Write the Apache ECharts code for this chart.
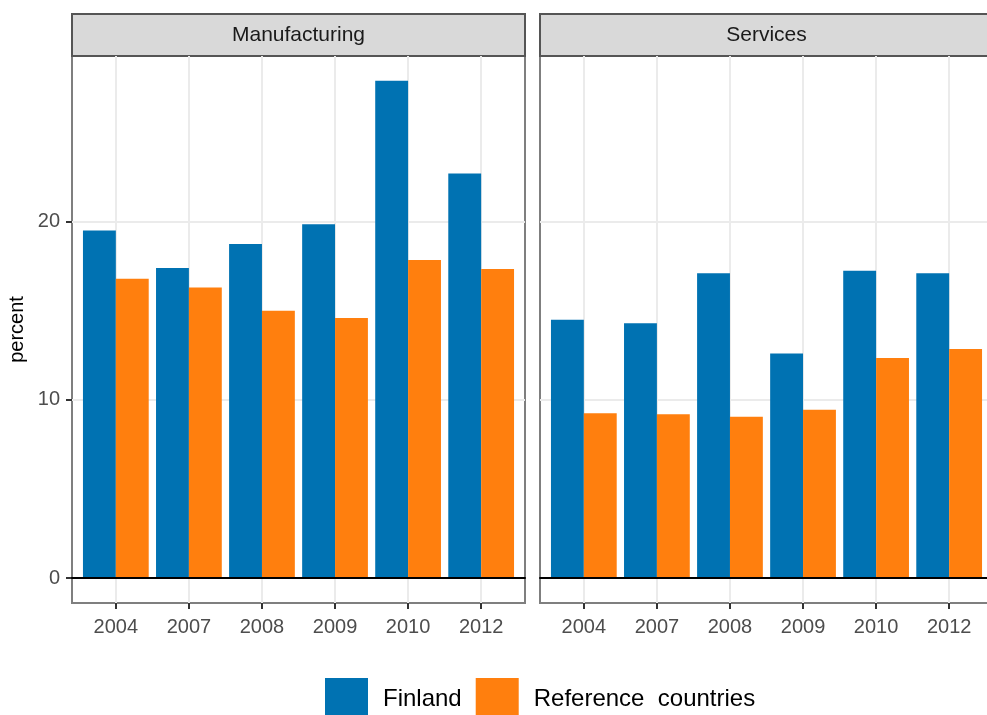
<!DOCTYPE html>
<html>
<head>
<meta charset="utf-8">
<script src="https://cdn.jsdelivr.net/npm/echarts@6/dist/echarts.min.js"></script>
<style>
  html, body { margin: 0; padding: 0; overflow: hidden; background: #ffffff; }
  #chart { width: 1000px; height: 715px; }
</style>
</head>
<body>
<div id="chart"></div>
<script>
// Share of firms (percent), Finland vs. reference countries, by sector and survey year
const years = ['2004', '2007', '2008', '2009', '2010', '2012'];
const sectors = ['Manufacturing', 'Services'];
const groups = ['Finland', 'Reference  countries'];

const finlandManufacturing   = [19.5, 17.4, 18.75, 19.85, 27.9, 22.7];
const referenceManufacturing = [16.8, 16.3, 15.0, 14.6, 17.85, 17.35];
const finlandServices        = [14.5, 14.3, 17.1, 12.6, 17.25, 17.1];
const referenceServices      = [9.25, 9.2, 9.05, 9.45, 12.35, 12.85];

const yTicks = [0, 10, 20];

// ---- layout -------------------------------------------------------------
const FONT = '"Liberation Sans", Arial, Helvetica, sans-serif';
const COLORS = ['#0072B2', '#FF7F0E'];
const panelLeft = [72, 540];
const panelW = 453;
const panelTop = 56;
const panelH = 547;
const stripTop = 14;

// discrete axis padding of 0.6 category on each side
const EXPAND = 0.6;
const unit = panelW / (years.length - 1 + 2 * EXPAND);

// shared y scale, 5% padding on both ends
const panelData = [
  [finlandManufacturing, referenceManufacturing],
  [finlandServices, referenceServices]
];
const allValues = panelData.flat(2);
const dataMax = Math.max(...allValues);
const dataMin = Math.min(0, ...allValues);
const yPad = 0.05 * (dataMax - dataMin);
const yMin = dataMin - yPad;
const yMax = dataMax + yPad;

const grids = [], xAxes = [], yAxes = [], series = [], graphics = [];

sectors.forEach((sector, p) => {
  const frame = 2 * p, inner = 2 * p + 1;

  // frame grid: panel border, horizontal grid lines, y axis, zero line
  grids.push({
    left: panelLeft[p], top: panelTop, width: panelW, height: panelH,
    show: true, borderColor: '#7F7F7F', borderWidth: 2,
    containLabel: false, outerBoundsMode: 'none'
  });
  // inner grid: spans first to last category centre
  grids.push({
    left: panelLeft[p] + EXPAND * unit, top: panelTop,
    width: (years.length - 1) * unit, height: panelH,
    containLabel: false, outerBoundsMode: 'none'
  });

  xAxes.push({
    type: 'value', gridIndex: frame, min: 0, max: 1, z: 5,
    axisLine: { show: true, onZero: true, onZeroAxisIndex: frame,
                lineStyle: { color: '#000000', width: 2 } },
    axisTick: { show: false }, axisLabel: { show: false },
    splitLine: { show: false }
  });
  xAxes.push({
    type: 'category', gridIndex: inner, data: years, boundaryGap: false,
    axisLine: { show: false, onZero: false },
    axisTick: { show: true, length: 6, lineStyle: { color: '#333333', width: 2 } },
    axisLabel: { margin: 14, color: '#4D4D4D', fontSize: 20, fontFamily: FONT },
    splitLine: { show: true, lineStyle: { color: '#EBEBEB', width: 2 } }
  });

  yAxes.push({
    type: 'value', gridIndex: frame, min: yMin, max: yMax,
    name: p === 0 ? 'percent' : '',
    nameLocation: 'middle', nameRotate: 90, nameGap: 45,
    nameTextStyle: { color: '#000000', fontSize: 20, fontFamily: FONT },
    axisLine: { show: false },
    axisTick: { show: p === 0, length: 6, customValues: yTicks,
                lineStyle: { color: '#333333', width: 2 } },
    axisLabel: { show: p === 0, customValues: yTicks, margin: 12,
                 color: '#4D4D4D', fontSize: 20, fontFamily: FONT },
    splitLine: { show: true, lineStyle: { color: '#EBEBEB', width: 2 } }
  });
  yAxes.push({
    type: 'value', gridIndex: inner, min: yMin, max: yMax, show: false
  });

  panelData[p].forEach((values, g) => {
    series.push({
      type: 'bar', name: groups[g], data: values,
      xAxisIndex: inner, yAxisIndex: inner,
      barGap: '0%', barCategoryGap: '10%', clip: false,
      itemStyle: { color: COLORS[g] }
    });
  });

  // facet strip
  graphics.push({
    type: 'group',
    children: [
      { type: 'rect',
        shape: { x: panelLeft[p], y: stripTop, width: panelW, height: panelTop - stripTop },
        style: { fill: '#D9D9D9', stroke: '#555555', lineWidth: 2 } },
      { type: 'text',
        x: panelLeft[p] + panelW / 2, y: (stripTop + panelTop) / 2,
        style: { text: sector, fill: '#1A1A1A', fontSize: 21, fontFamily: FONT,
                 align: 'center', verticalAlign: 'middle' } }
    ]
  });
});

const chart = echarts.init(document.getElementById('chart'), null, { renderer: 'canvas' });
chart.setOption({
  animation: false,
  backgroundColor: '#ffffff',
  grid: grids,
  xAxis: xAxes,
  yAxis: yAxes,
  series: series,
  graphic: graphics,
  legend: {
    data: groups, left: 325, top: 678, padding: 0,
    icon: 'rect', itemWidth: 43, itemHeight: 43, itemGap: 14,
    textStyle: { color: '#000000', fontSize: 24, fontFamily: FONT, padding: [0, 0, 0, 10] }
  }
});
</script>
</body>
</html>
